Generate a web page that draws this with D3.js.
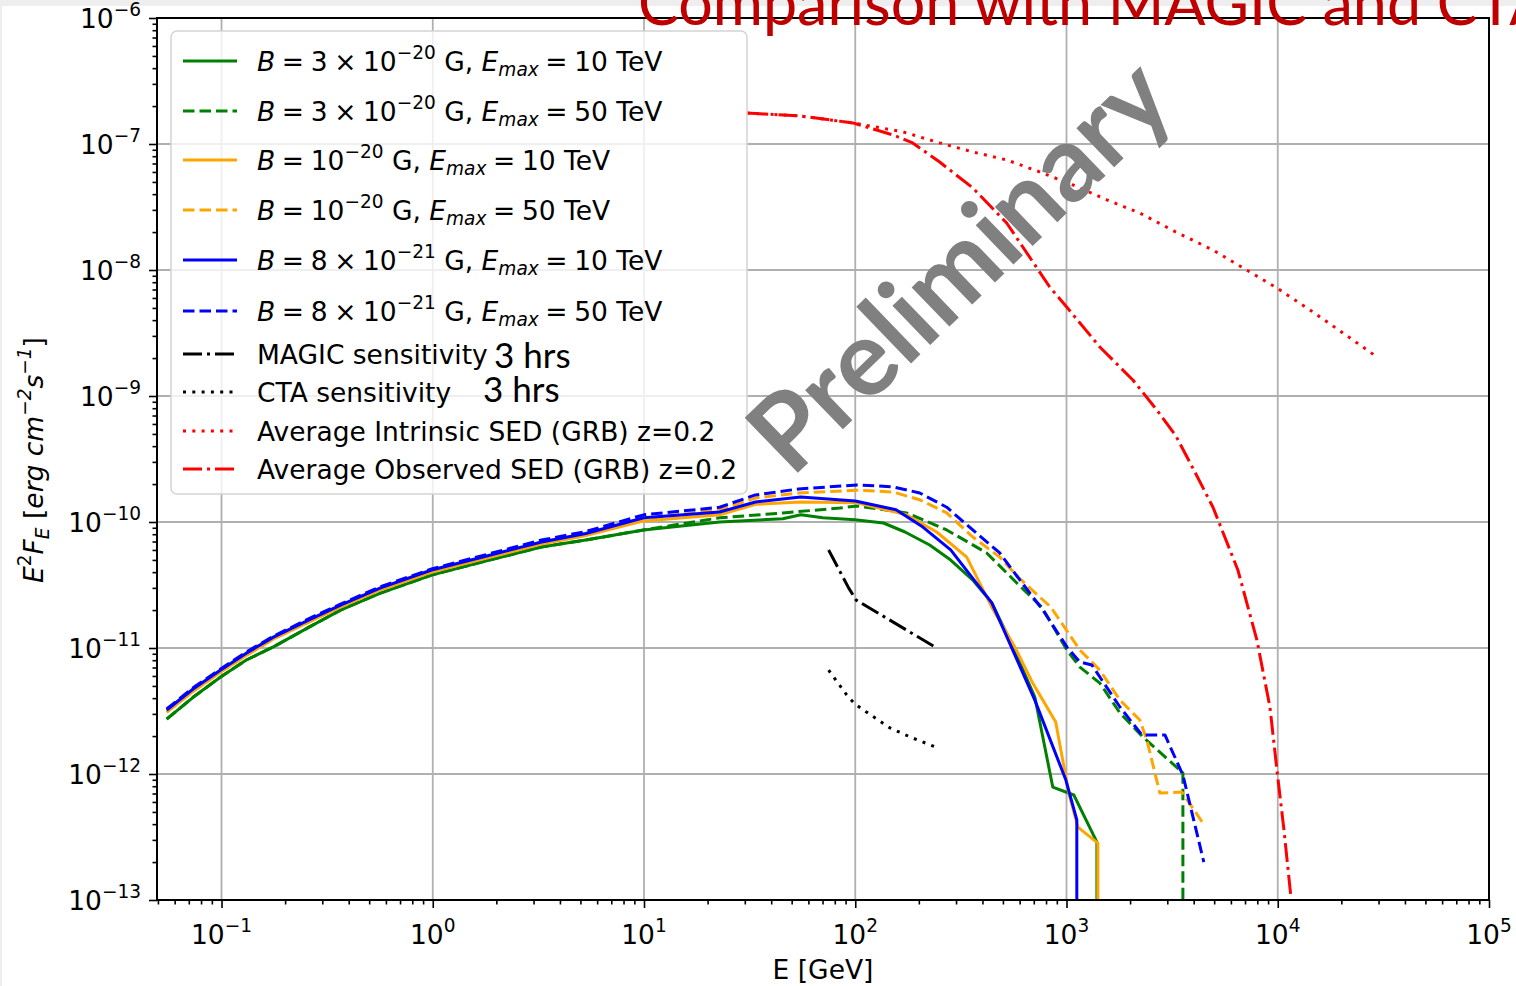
<!DOCTYPE html>
<html><head><meta charset="utf-8">
<script src="https://cdn.jsdelivr.net/npm/d3@7"></script>
<style>body{margin:0;background:#fff;} svg{display:block;font-family:"DejaVu Sans",sans-serif;}</style>
</head><body><svg id="c" width="1516" height="986"></svg>
<script>
// ---------- data ----------
const xTickValues = [0.1, 1, 10, 100, 1000, 10000, 100000];
const xTickExponents = ["\u22121", "0", "1", "2", "3", "4", "5"];
const yTickValues = [1e-6, 1e-7, 1e-8, 1e-9, 1e-10, 1e-11, 1e-12, 1e-13];
const yTickExponents = ["\u22126", "\u22127", "\u22128", "\u22129", "\u221210", "\u221211", "\u221212", "\u221213"];

const lowE = [0.055, 0.0736, 0.099, 0.131, 0.176, 0.261, 0.366, 0.566, 0.987, 1.82, 3.27, 5.30, 9.96];

const greenSolidE = lowE.concat([22.8, 45.4, 55.2, 70.2, 99.5, 136, 172, 225, 283, 360, 443, 539, 708, 861, 1083, 1393, 1393]);
const greenSolidF = [2.73e-12, 4.08e-12, 5.89e-12, 8.03e-12, 1.02e-11, 1.47e-11, 2.00e-11, 2.73e-11, 3.79e-11, 4.95e-11, 6.34e-11, 7.19e-11, 8.65e-11,
  1.00e-10, 1.06e-10, 1.14e-10, 1.08e-10, 1.04e-10, 9.82e-11, 8.33e-11, 6.57e-11, 4.99e-11, 3.46e-11, 2.28e-11, 1.16e-11, 4.08e-12, 7.88e-13, 6.81e-13, 2.88e-13, 1e-14];

const greenDashE = lowE.concat([22.8, 45.4, 84.5, 102, 175, 271, 419, 582, 764, 1004, 1157, 1438, 1790, 2298, 3556, 3556]);
const greenDashF = [2.73e-12, 4.08e-12, 5.89e-12, 8.03e-12, 1.02e-11, 1.47e-11, 2.00e-11, 2.73e-11, 3.79e-11, 4.95e-11, 6.34e-11, 7.19e-11, 8.65e-11,
  1.08e-10, 1.18e-10, 1.29e-10, 1.34e-10, 1.18e-10, 8.65e-11, 5.68e-11, 3.28e-11, 2.11e-11, 9.63e-12, 7.06e-12, 5.27e-12, 3.05e-12, 1.97e-12, 1.02e-12, 1e-14];

const orangeSolidE = lowE.concat([22.8, 33.7, 55.2, 102, 175, 243, 337, 443, 569, 692, 889, 1025, 1132, 1407, 1407]);
const orangeSolidF = [3.10e-12, 4.55e-12, 6.44e-12, 8.75e-12, 1.18e-11, 1.62e-11, 2.12e-11, 2.90e-11, 4.01e-11, 5.20e-11, 6.68e-11, 7.80e-11, 1.02e-10,
  1.14e-10, 1.38e-10, 1.44e-10, 1.42e-10, 1.14e-10, 8.33e-11, 5.27e-11, 2.11e-11, 1.02e-11, 5.27e-12, 2.59e-12, 7.06e-13, 3.79e-13, 2.83e-13, 1e-14];

const orangeDashE = lowE.concat([22.8, 33.7, 54.0, 102, 151, 202, 271, 360, 483, 589, 843, 1157, 1438, 1790, 2225, 2400, 2766, 3516, 4424]);
const orangeDashF = [3.10e-12, 4.55e-12, 6.44e-12, 8.75e-12, 1.18e-11, 1.62e-11, 2.12e-11, 2.90e-11, 4.01e-11, 5.25e-11, 6.80e-11, 8.00e-11, 1.06e-10,
  1.25e-10, 1.55e-10, 1.70e-10, 1.79e-10, 1.73e-10, 1.50e-10, 1.18e-10, 7.60e-11, 5.27e-11, 3.66e-11, 2.11e-11, 9.63e-12, 6.68e-12, 3.86e-12, 2.68e-12, 1.86e-12, 7.06e-13, 7.19e-13, 4.08e-13];

const blueSolidE = lowE.concat([22.8, 33.7, 55.2, 100, 156, 209, 283, 443, 708, 993, 1119, 1119]);
const blueSolidF = [3.22e-12, 4.75e-12, 6.68e-12, 9.10e-12, 1.22e-11, 1.68e-11, 2.19e-11, 3.00e-11, 4.16e-11, 5.40e-11, 6.93e-11, 8.10e-11, 1.08e-10,
  1.20e-10, 1.44e-10, 1.58e-10, 1.47e-10, 1.25e-10, 9.12e-11, 6.00e-11, 2.28e-11, 3.86e-12, 8.95e-13, 4.32e-13, 1e-14];

const blueDashE = lowE.concat([22.8, 33.7, 54.0, 102, 151, 202, 271, 360, 483, 601, 773, 1004, 1157, 1318, 1790, 2274, 2924, 3556, 4467]);
const blueDashF = [3.28e-12, 4.85e-12, 6.80e-12, 9.30e-12, 1.24e-11, 1.72e-11, 2.23e-11, 3.07e-11, 4.24e-11, 5.55e-11, 7.19e-11, 8.40e-11, 1.14e-10,
  1.31e-10, 1.64e-10, 1.83e-10, 1.97e-10, 1.90e-10, 1.70e-10, 1.31e-10, 8.65e-11, 5.68e-11, 3.47e-11, 2.00e-11, 1.02e-11, 7.74e-12, 7.33e-12, 3.40e-12, 2.04e-12, 2.04e-12, 9.82e-13, 2.0e-13];

const magicE = [74.8, 93, 101, 243];
const magicF = [6.0e-11, 3.0e-11, 2.4e-11, 1.0e-11];

const ctaE = [74.8, 91.1, 99.5, 113, 146, 187, 246];
const ctaF = [6.68e-12, 4.24e-12, 3.60e-12, 3.10e-12, 2.32e-12, 1.93e-12, 1.61e-12];

const intrinsicE = [30.6, 54.6, 97.3, 168, 251, 360, 521, 747, 1072, 1552, 2225, 3296, 4935, 6840, 9909, 14200, 20370, 29510];
const intrinsicF = [1.76e-7, 1.67e-7, 1.47e-7, 1.25e-7, 1.02e-7, 8.65e-8, 7.47e-8, 6.0e-8, 4.73e-8, 3.60e-8, 2.83e-8, 2.0e-8, 1.44e-8, 1.04e-8, 7.19e-9, 4.82e-9, 3.16e-9, 2.04e-9];

const observedE = [30.6, 54.6, 97.3, 151, 187, 251, 360, 521, 833, 1002, 1438, 2061, 2677, 3300, 4000, 4935, 6474, 7963, 9183, 9909, 10700, 11540];
const observedF = [1.76e-7, 1.67e-7, 1.47e-7, 1.18e-7, 1.02e-7, 7.19e-8, 4.48e-8, 2.36e-8, 7.33e-9, 5.08e-9, 2.45e-9, 1.34e-9, 7.74e-10, 4.8e-10, 2.6e-10, 1.31e-10, 4.16e-11, 1.16e-11, 3.40e-12, 1.08e-12, 3.60e-13, 1.06e-13];

const seriesNames = ["gs", "gd", "os", "od", "bs", "bd", "magic", "cta", "intr", "obs"];
const seriesColors = ["#008000", "#008000", "#FFA500", "#FFA500", "#0000FF", "#0000FF", "#000000", "#000000", "#FF0000", "#FF0000"];
const seriesDash = ["", "11.5,5", "", "11.5,5", "", "11.5,5", "19,5,3,5", "3,6.3", "3,6.3", "19,5,3,5"];
const seriesE = [greenSolidE, greenDashE, orangeSolidE, orangeDashE, blueSolidE, blueDashE, magicE, ctaE, intrinsicE, observedE];
const seriesF = [greenSolidF, greenDashF, orangeSolidF, orangeDashF, blueSolidF, blueDashF, magicF, ctaF, intrinsicF, observedF];

// legend label parts: [text, style] style: n normal, i italic, sup, sub
const S = "\u2005";
const legendLabels = [
  [["B", "i"], [S + "=" + S + "3" + S + "\u00d7" + S + "10", "n"], ["\u221220", "sup"], [" G, ", "n"], ["E", "i"], ["max", "sub"], [S + "=" + S + "10 TeV", "n"]],
  [["B", "i"], [S + "=" + S + "3" + S + "\u00d7" + S + "10", "n"], ["\u221220", "sup"], [" G, ", "n"], ["E", "i"], ["max", "sub"], [S + "=" + S + "50 TeV", "n"]],
  [["B", "i"], [S + "=" + S + "10", "n"], ["\u221220", "sup"], [" G, ", "n"], ["E", "i"], ["max", "sub"], [S + "=" + S + "10 TeV", "n"]],
  [["B", "i"], [S + "=" + S + "10", "n"], ["\u221220", "sup"], [" G, ", "n"], ["E", "i"], ["max", "sub"], [S + "=" + S + "50 TeV", "n"]],
  [["B", "i"], [S + "=" + S + "8" + S + "\u00d7" + S + "10", "n"], ["\u221221", "sup"], [" G, ", "n"], ["E", "i"], ["max", "sub"], [S + "=" + S + "10 TeV", "n"]],
  [["B", "i"], [S + "=" + S + "8" + S + "\u00d7" + S + "10", "n"], ["\u221221", "sup"], [" G, ", "n"], ["E", "i"], ["max", "sub"], [S + "=" + S + "50 TeV", "n"]],
  [["MAGIC sensitivity", "n"]],
  [["CTA sensitivity", "n"]],
  [["Average Intrinsic SED (GRB) z=0.2", "n"]],
  [["Average Observed SED (GRB) z=0.2", "n"]]
];
const legendRowY = [61, 111, 160, 210, 260, 311, 354, 392, 431, 469];

// ---------- drawing ----------
const FS = 26.5;
const svg = d3.select("#c");
const M = {l: 157, r: 1489, t: 18, b: 900};
const x = d3.scaleLog().domain([0.0495, 1e5]).range([M.l, M.r]);
const y = d3.scaleLog().domain([1e-13, 1e-6]).range([M.b, M.t]);

svg.append("rect").attr("width", 1516).attr("height", 986).attr("fill", "#fff");
svg.append("rect").attr("width", 1516).attr("height", 6).attr("fill", "#eeeeee");
svg.append("rect").attr("x", 0).attr("width", 2).attr("height", 986).attr("fill", "#eeeeee");

function rich(sel, parts, fs) {
  let shift = 0;
  parts.forEach(([t, s]) => {
    const ts = sel.append("tspan").text(t);
    let target = 0, size = fs, it = false;
    if (s === "i") it = true;
    if (s === "sup") { target = -0.45 * fs; size = 0.7 * fs; }
    if (s === "sub") { target = 0.22 * fs; size = 0.7 * fs; it = true; }
    if (s === "supi") { target = -0.45 * fs; size = 0.7 * fs; it = true; }
    ts.attr("dy", target - shift).attr("font-size", size).attr("font-style", it ? "italic" : "normal");
    shift = target;
  });
}

// grid
const gGrid = svg.append("g");
xTickValues.forEach(v => {
  if (x(v) > M.l + 1 && x(v) < M.r - 1)
    gGrid.append("line").attr("x1", x(v)).attr("x2", x(v)).attr("y1", M.t).attr("y2", M.b).attr("stroke", "#b0b0b0").attr("stroke-width", 1.8);
});
yTickValues.forEach(v => {
  if (y(v) > M.t + 1 && y(v) < M.b - 1)
    gGrid.append("line").attr("y1", y(v)).attr("y2", y(v)).attr("x1", M.l).attr("x2", M.r).attr("stroke", "#b0b0b0").attr("stroke-width", 1.8);
});

// curves
svg.append("clipPath").attr("id", "clip").append("rect").attr("x", M.l).attr("y", M.t).attr("width", M.r - M.l).attr("height", M.b - M.t);
const line = d3.line().x(d => x(d[0])).y(d => y(Math.max(d[1], 1e-14)));
const gLines = svg.append("g").attr("clip-path", "url(#clip)");
seriesNames.forEach((n, i) => {
  const pts = seriesE[i].map((e, j) => [e, seriesF[i][j]]);
  gLines.append("path").attr("d", line(pts)).attr("fill", "none")
    .attr("stroke", seriesColors[i]).attr("stroke-width", 3)
    .attr("stroke-dasharray", seriesDash[i] || null).attr("stroke-linejoin", "round");
});

// axes
const xAxis = d3.axisBottom(x).tickValues(xTickValues.filter(v => v >= 0.0495)).tickSize(8).tickFormat("");
const gx = svg.append("g").attr("transform", `translate(0,${M.b})`).call(xAxis);
const xMinor = [];
for (let p = -2; p < 5; p++) for (let k = 2; k <= 9; k++) { const v = k * Math.pow(10, p); if (v >= 0.0495 && v <= 1e5) xMinor.push(v); }
const gxm = svg.append("g").attr("transform", `translate(0,${M.b})`).call(d3.axisBottom(x).tickValues(xMinor).tickSize(4.5).tickFormat(""));
const yAxis = d3.axisLeft(y).tickValues(yTickValues).tickSize(8).tickFormat("");
const gy = svg.append("g").attr("transform", `translate(${M.l},0)`).call(yAxis);
const yMinor = [];
for (let p = -13; p < -6; p++) for (let k = 2; k <= 9; k++) yMinor.push(k * Math.pow(10, p));
const gym = svg.append("g").attr("transform", `translate(${M.l},0)`).call(d3.axisLeft(y).tickValues(yMinor).tickSize(4.5).tickFormat(""));
[gx, gxm, gy, gym].forEach(g => { g.select(".domain").remove(); g.selectAll("line").attr("stroke", "#000").attr("stroke-width", 1.6); });

// frame
svg.append("rect").attr("x", M.l).attr("y", M.t).attr("width", M.r - M.l).attr("height", M.b - M.t)
  .attr("fill", "none").attr("stroke", "#000").attr("stroke-width", 2);

// tick labels
xTickValues.forEach((v, i) => {
  const t = svg.append("text").attr("x", x(v)).attr("y", 944).attr("text-anchor", "middle").attr("font-size", FS).attr("fill", "#000");
  rich(t, [["10", "n"], [xTickExponents[i], "sup"]], FS);
});
yTickValues.forEach((v, i) => {
  const t = svg.append("text").attr("x", 141).attr("y", y(v) + 10).attr("text-anchor", "end").attr("font-size", FS).attr("fill", "#000");
  rich(t, [["10", "n"], [yTickExponents[i], "sup"]], FS);
});

// axis labels
svg.append("text").attr("x", 823).attr("y", 979).attr("text-anchor", "middle").attr("font-size", FS).text("E [GeV]");
const yl = svg.append("text").attr("transform", "translate(43,460) rotate(-90)").attr("text-anchor", "middle").attr("font-size", FS);
rich(yl, [["E", "i"], ["2", "sup"], ["F", "i"], ["E", "sub"], [" [", "n"], ["erg cm", "i"], ["\u22122", "supi"], ["s", "i"], ["\u22121", "supi"], ["]", "n"]], FS);

// legend
const gL = svg.append("g");
gL.append("rect").attr("x", 171).attr("y", 31).attr("width", 576).attr("height", 463).attr("rx", 6)
  .attr("fill", "#fff").attr("fill-opacity", 0.8).attr("stroke", "#d4d4d4").attr("stroke-width", 1.5);
legendLabels.forEach((parts, i) => {
  const yy = legendRowY[i];
  gL.append("line").attr("x1", 183).attr("x2", 237).attr("y1", yy).attr("y2", yy)
    .attr("stroke", seriesColors[i]).attr("stroke-width", 3).attr("stroke-dasharray", seriesDash[i] || null);
  const t = gL.append("text").attr("x", 257).attr("y", yy + 9.5).attr("font-size", FS).attr("fill", "#000");
  rich(t, parts, FS);
});
// overlaid annotations
svg.append("text").attr("x", 494).attr("y", 368).attr("font-family", "Lato").attr("font-size", 35).text("3 hrs");
svg.append("text").attr("x", 483).attr("y", 402).attr("font-family", "Lato").attr("font-size", 35).text("3 hrs");

// watermark
svg.append("text").attr("transform", "translate(985,292) rotate(-44)").attr("text-anchor", "middle")
  .attr("font-family", "Lato").attr("font-weight", 700).attr("font-size", 106).attr("fill", "#808080").text("Preliminary");

// title
svg.append("text").attr("x", 638).attr("y", 25).attr("font-family", "Lato").attr("font-size", 61).attr("fill", "#c00000")
  .text("Comparison with MAGIC and CTA");
</script></body></html>
